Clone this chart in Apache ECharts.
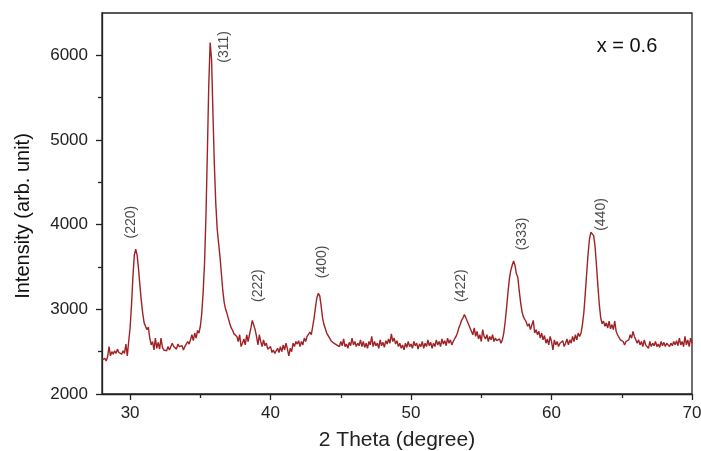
<!DOCTYPE html>
<html>
<head>
<meta charset="utf-8">
<script src="https://cdn.jsdelivr.net/npm/echarts@6/dist/echarts.min.js"></script>
<style>
  html, body { margin: 0; padding: 0; background: #fff; }
  #chart { width: 701px; height: 451px; }
</style>
</head>
<body>
<div id="chart"></div>
<script>
  // XRD scan, x = 0.6 sample (0.1 deg steps)
  const twoTheta = [
    28.0, 28.1, 28.2, 28.3, 28.4, 28.5, 28.6, 28.7, 28.8, 28.9,
    29.0, 29.1, 29.2, 29.3, 29.4, 29.5, 29.6, 29.7, 29.8, 29.9,
    30.0, 30.1, 30.2, 30.3, 30.4, 30.5, 30.6, 30.7, 30.8, 30.9,
    31.0, 31.1, 31.2, 31.3, 31.4, 31.5, 31.6, 31.7, 31.8, 31.9,
    32.0, 32.1, 32.2, 32.3, 32.4, 32.5, 32.6, 32.7, 32.8, 32.9,
    33.0, 33.1, 33.2, 33.3, 33.4, 33.5, 33.6, 33.7, 33.8, 33.9,
    34.0, 34.1, 34.2, 34.3, 34.4, 34.5, 34.6, 34.7, 34.8, 34.9,
    35.0, 35.1, 35.2, 35.3, 35.4, 35.5, 35.6, 35.7, 35.8, 35.9,
    36.0, 36.1, 36.2, 36.3, 36.4, 36.5, 36.6, 36.7, 36.8, 36.9,
    37.0, 37.1, 37.2, 37.3, 37.4, 37.5, 37.6, 37.7, 37.8, 37.9,
    38.0, 38.1, 38.2, 38.3, 38.4, 38.5, 38.6, 38.7, 38.8, 38.9,
    39.0, 39.1, 39.2, 39.3, 39.4, 39.5, 39.6, 39.7, 39.8, 39.9,
    40.0, 40.1, 40.2, 40.3, 40.4, 40.5, 40.6, 40.7, 40.8, 40.9,
    41.0, 41.1, 41.2, 41.3, 41.4, 41.5, 41.6, 41.7, 41.8, 41.9,
    42.0, 42.1, 42.2, 42.3, 42.4, 42.5, 42.6, 42.7, 42.8, 42.9,
    43.0, 43.1, 43.2, 43.3, 43.4, 43.5, 43.6, 43.7, 43.8, 43.9,
    44.0, 44.1, 44.2, 44.3, 44.4, 44.5, 44.6, 44.7, 44.8, 44.9,
    45.0, 45.1, 45.2, 45.3, 45.4, 45.5, 45.6, 45.7, 45.8, 45.9,
    46.0, 46.1, 46.2, 46.3, 46.4, 46.5, 46.6, 46.7, 46.8, 46.9,
    47.0, 47.1, 47.2, 47.3, 47.4, 47.5, 47.6, 47.7, 47.8, 47.9,
    48.0, 48.1, 48.2, 48.3, 48.4, 48.5, 48.6, 48.7, 48.8, 48.9,
    49.0, 49.1, 49.2, 49.3, 49.4, 49.5, 49.6, 49.7, 49.8, 49.9,
    50.0, 50.1, 50.2, 50.3, 50.4, 50.5, 50.6, 50.7, 50.8, 50.9,
    51.0, 51.1, 51.2, 51.3, 51.4, 51.5, 51.6, 51.7, 51.8, 51.9,
    52.0, 52.1, 52.2, 52.3, 52.4, 52.5, 52.6, 52.7, 52.8, 52.9,
    53.0, 53.1, 53.2, 53.3, 53.4, 53.5, 53.6, 53.7, 53.8, 53.9,
    54.0, 54.1, 54.2, 54.3, 54.4, 54.5, 54.6, 54.7, 54.8, 54.9,
    55.0, 55.1, 55.2, 55.3, 55.4, 55.5, 55.6, 55.7, 55.8, 55.9,
    56.0, 56.1, 56.2, 56.3, 56.4, 56.5, 56.6, 56.7, 56.8, 56.9,
    57.0, 57.1, 57.2, 57.3, 57.4, 57.5, 57.6, 57.7, 57.8, 57.9,
    58.0, 58.1, 58.2, 58.3, 58.4, 58.5, 58.6, 58.7, 58.8, 58.9,
    59.0, 59.1, 59.2, 59.3, 59.4, 59.5, 59.6, 59.7, 59.8, 59.9,
    60.0, 60.1, 60.2, 60.3, 60.4, 60.5, 60.6, 60.7, 60.8, 60.9,
    61.0, 61.1, 61.2, 61.3, 61.4, 61.5, 61.6, 61.7, 61.8, 61.9,
    62.0, 62.1, 62.2, 62.3, 62.4, 62.5, 62.6, 62.7, 62.8, 62.9,
    63.0, 63.1, 63.2, 63.3, 63.4, 63.5, 63.6, 63.7, 63.8, 63.9,
    64.0, 64.1, 64.2, 64.3, 64.4, 64.5, 64.6, 64.7, 64.8, 64.9,
    65.0, 65.1, 65.2, 65.3, 65.4, 65.5, 65.6, 65.7, 65.8, 65.9,
    66.0, 66.1, 66.2, 66.3, 66.4, 66.5, 66.6, 66.7, 66.8, 66.9,
    67.0, 67.1, 67.2, 67.3, 67.4, 67.5, 67.6, 67.7, 67.8, 67.9,
    68.0, 68.1, 68.2, 68.3, 68.4, 68.5, 68.6, 68.7, 68.8, 68.9,
    69.0, 69.1, 69.2, 69.3, 69.4, 69.5, 69.6, 69.7, 69.8, 69.9,
    70.0
  ]
  const intensity = [
    2400, 2380, 2420, 2390, 2440, 2560, 2450, 2500, 2470, 2510,
    2480, 2530, 2490, 2500, 2470, 2510, 2480, 2590, 2450, 2620,
    2780, 3050, 3380, 3640, 3710, 3640, 3480, 3280, 3100, 2950,
    2840, 2860, 2760, 2790, 2660, 2580, 2620, 2520, 2660, 2540,
    2610, 2530, 2660, 2550, 2520, 2540, 2510, 2560, 2520, 2540,
    2600, 2560, 2580, 2530, 2590, 2560, 2540, 2570, 2520, 2560,
    2580, 2620, 2590, 2640, 2700, 2630, 2720, 2660, 2750, 2720,
    2800, 2950, 3200, 3550, 4100, 4850, 5650, 6150, 5950, 5300,
    4700, 4250, 3950, 3780, 3620, 3420, 3220, 3080, 3000, 2950,
    2890, 2830, 2780, 2750, 2710, 2720, 2680, 2620, 2700, 2560,
    2600, 2650, 2580, 2700, 2620, 2700, 2780, 2870, 2860, 2760,
    2680, 2580, 2700, 2620, 2560, 2640, 2570, 2600, 2530, 2510,
    2560, 2490, 2520, 2480, 2500, 2540, 2490, 2560, 2500, 2580,
    2520, 2600, 2530, 2450, 2540, 2500, 2600, 2560, 2620, 2590,
    2630, 2560, 2620, 2580, 2660, 2620, 2680, 2660, 2730, 2700,
    2800, 2900, 3030, 3140, 3190, 3160, 3040, 2900, 2820, 2770,
    2720, 2740, 2660, 2630, 2650, 2600, 2620, 2580, 2600, 2560,
    2620, 2570, 2650, 2560, 2590, 2540, 2610, 2570, 2660, 2580,
    2620, 2560, 2600, 2570, 2640, 2560, 2620, 2550, 2600, 2540,
    2620, 2580, 2680, 2560, 2620, 2570, 2600, 2540, 2640, 2570,
    2610, 2550, 2630, 2590, 2650, 2600, 2710, 2620, 2660, 2590,
    2630, 2560, 2600, 2540, 2580, 2520, 2600, 2550, 2620, 2560,
    2590, 2540, 2620, 2570, 2600, 2530, 2590, 2560, 2620, 2540,
    2600, 2560, 2640, 2570, 2610, 2540, 2600, 2560, 2640, 2580,
    2620, 2560, 2650, 2590, 2630, 2570, 2660, 2600, 2640, 2580,
    2620, 2600, 2680, 2720, 2780, 2820, 2870, 2900, 2940, 2900,
    2860, 2820, 2780, 2760, 2700, 2780, 2680, 2740, 2650, 2700,
    2620, 2760, 2680, 2650, 2700, 2620, 2680, 2640, 2700, 2620,
    2660, 2630, 2610, 2650, 2600, 2640, 2720, 2850, 3020, 3200,
    3360, 3460, 3520, 3570, 3520, 3420, 3380, 3220, 3080, 2970,
    2910, 2880, 2850, 2800, 2830, 2760, 2780, 2870, 2720, 2760,
    2700, 2740, 2660, 2720, 2640, 2690, 2600, 2650, 2580, 2680,
    2620, 2520, 2640, 2580, 2620, 2560, 2600, 2580, 2630, 2560,
    2600, 2650, 2580, 2640, 2600, 2680, 2620, 2700, 2640, 2720,
    2680, 2720, 2820, 2960, 3180, 3420, 3650, 3830, 3910, 3930,
    3870, 3740, 3520, 3280, 3060, 2900, 2830, 2860, 2800, 2840,
    2780, 2860, 2770, 2820, 2760, 2860, 2740, 2700, 2680, 2640,
    2660, 2620, 2580, 2620, 2600, 2640, 2700, 2660, 2740, 2680,
    2640, 2600, 2640, 2580, 2620, 2560, 2640, 2580, 2600, 2540,
    2620, 2560, 2600, 2570, 2620, 2560, 2590, 2550, 2620, 2570,
    2610, 2560, 2600, 2580, 2560, 2600, 2570, 2620, 2580, 2630,
    2570, 2660, 2580, 2620, 2560, 2680, 2580, 2640, 2560, 2660,
    2600
  ]

  // (hkl) reflections and where their labels sit, in data units
  const peakNames = ['(220)', '(311)', '(222)', '(400)', '(422)', '(333)', '(440)']
  const labelTheta = [30.1, 36.7, 39.1, 43.7, 53.6, 57.9, 63.5]
  const labelIntensity = [4030, 6100, 3280, 3560, 3280, 3890, 4120]

  const xMajorTicks = [30, 40, 50, 60, 70]
  const xMinorTicks = [35, 45, 55, 65]
  const yMajorTicks = [2000, 3000, 4000, 5000, 6000]
  const yMinorTicks = [2500, 3500, 4500, 5500]

  const axisColor = '#222'
  const fontName = '"Liberation Sans", Arial, sans-serif'

  const chart = echarts.init(document.getElementById('chart'))

  const lineData = twoTheta.map((t, i) => [t, intensity[i]])
  const labelData = peakNames.map((n, i) => ({ value: [labelTheta[i], labelIntensity[i]], name: n }))

  const hiddenAxis = {
    axisLine: { show: false },
    axisLabel: { show: false },
    splitLine: { show: false }
  }

  chart.setOption({
    animation: false,
    backgroundColor: '#fff',
    grid: {
      left: 102,
      right: 9,
      top: 13,
      bottom: 57,
      outerBoundsMode: 'none',
      show: true,
      borderColor: axisColor,
      borderWidth: 1.3,
      backgroundColor: 'transparent'
    },
    xAxis: [{
      type: 'value',
      min: 28,
      max: 70,
      name: '2 Theta (degree)',
      nameLocation: 'middle',
      nameGap: 36,
      nameTextStyle: { fontFamily: fontName, fontSize: 21, color: axisColor },
      axisLine: { lineStyle: { color: axisColor, width: 1.3 } },
      axisTick: { customValues: xMajorTicks, length: 6, lineStyle: { color: axisColor, width: 1.3 } },
      axisLabel: { customValues: xMajorTicks, margin: 11, fontFamily: fontName, fontSize: 17, color: axisColor },
      splitLine: { show: false }
    }, Object.assign({
      type: 'value',
      min: 28,
      max: 70,
      position: 'bottom',
      axisTick: { customValues: xMinorTicks, length: 4, lineStyle: { color: axisColor, width: 1.3 } }
    }, hiddenAxis)],
    yAxis: [{
      type: 'value',
      min: 2000,
      max: 6500,
      axisLine: { show: true, lineStyle: { color: axisColor, width: 1.3 } },
      axisTick: { show: true, customValues: yMajorTicks, length: 6, lineStyle: { color: axisColor, width: 1.3 } },
      axisLabel: {
        customValues: yMajorTicks,
        margin: 14,
        formatter: v => String(v),
        fontFamily: fontName,
        fontSize: 17,
        color: axisColor
      },
      splitLine: { show: false }
    }, Object.assign({
      type: 'value',
      min: 2000,
      max: 6500,
      position: 'left',
      axisTick: { show: true, customValues: yMinorTicks, length: 4, lineStyle: { color: axisColor, width: 1.3 } }
    }, hiddenAxis)],
    series: [{
      name: 'x = 0.6',
      type: 'line',
      data: lineData,
      showSymbol: false,
      lineStyle: { color: '#9e2226', width: 1.4 },
      z: 3
    }, {
      type: 'scatter',
      data: labelData,
      symbolSize: 1,
      itemStyle: { color: 'transparent' },
      label: {
        show: true,
        position: 'inside',
        rotate: 90,
        formatter: '{b}',
        fontFamily: fontName,
        fontSize: 14,
        color: '#1a1a1a'
      },
      z: 4
    }],
    graphic: [{
      type: 'text',
      x: 627,
      y: 46,
      style: {
        text: 'x = 0.6',
        font: '20px ' + fontName,
        fill: '#111',
        textAlign: 'center',
        textVerticalAlign: 'middle'
      }
    }, {
      type: 'text',
      x: 23,
      y: 216,
      rotation: Math.PI / 2,
      style: {
        text: 'Intensity (arb. unit)',
        font: '20px ' + fontName,
        fill: '#111',
        textAlign: 'center',
        textVerticalAlign: 'middle'
      }
    }]
  })
</script>
</body>
</html>
